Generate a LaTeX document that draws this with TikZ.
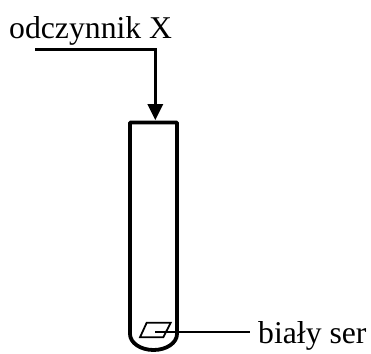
\documentclass[tikz,border=0pt]{standalone}
\usepackage{fontspec}
\setmainfont{Liberation Serif}
\tikzset{
  lbl/.style={inner sep=0pt,anchor=base west,font=\fontsize{31.7}{34}\selectfont},
  tube/.style={line width=3.8pt,draw=black,line join=round},
  lead/.style={line width=2.7pt,draw=black},
  thin lead/.style={line width=1.8pt,draw=black},
  headfill/.style={fill=black,draw=none}
}
\begin{document}
\begin{tikzpicture}[x=1pt,y=-1pt]
\useasboundingbox (0,0) rectangle (371,353);
\node[lbl] (reagent) at (9,38) {odczynnik X};
\node[lbl] (cheese) at (258,343) {biały ser};
\coordinate (start) at (35,49.3);
\coordinate (bend) at (155.3,49.3);
\coordinate (neck) at (155.3,105);
\coordinate (mouth) at (155.3,120);
\draw[lead] (start) -- (bend) -- (neck);
\fill[headfill] (147.3,104) -- (163.3,104) -- (mouth) -- cycle;
\draw[tube] (130,334) -- (130,122.5) -- (177,122.5) -- (177,334)
  arc[start angle=0,end angle=180,x radius=23.5,y radius=16];
\draw[thin lead] (146.7,322.7) -- (170.7,322.7) -- (163.3,337.3) -- (140,337.3) -- cycle;
\coordinate (leadin) at (155,331.7);
\coordinate (leadout) at (250,331.7);
\draw[thin lead] (leadin) -- (leadout);
\end{tikzpicture}
\end{document}
